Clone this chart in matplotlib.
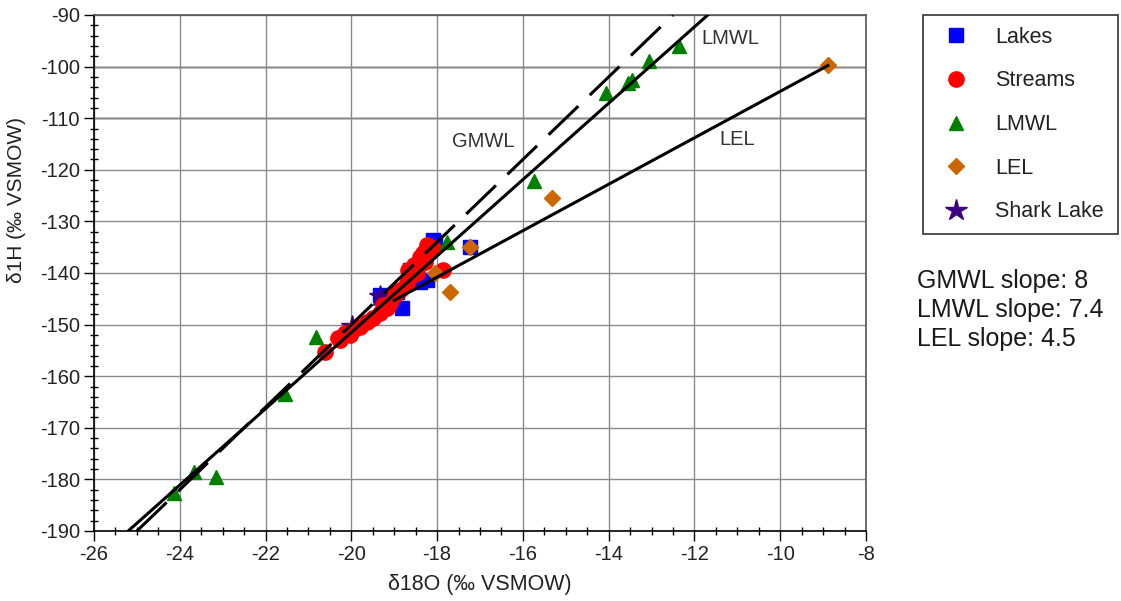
import matplotlib
matplotlib.use("Agg")
import matplotlib.pyplot as plt
from matplotlib.ticker import MultipleLocator
import numpy as np

plt.rcParams['font.family'] = ['Liberation Sans', 'DejaVu Sans']
plt.rcParams['axes.unicode_minus'] = False

# ---- data ----
lakes_x = [-18.05, -17.24, -18.40, -18.24, -18.82, -18.94, -19.33, -18.63, -18.10]
lakes_y = [-134.0, -135.0, -141.7, -141.4, -146.8, -143.7, -144.3, -139.4, -133.6]

streams_x = [-20.62, -20.31, -20.27, -20.15, -20.03, -19.96, -19.80, -19.64, -19.50,
             -19.33, -19.17, -19.10, -19.26, -18.98, -18.87, -18.70, -18.63, -18.47,
             -18.68, -18.40, -18.33, -18.21, -18.10, -18.28, -17.86, -18.24, -18.55]
streams_y = [-155.3, -152.6, -153.0, -151.6, -152.0, -151.0, -150.5, -149.5, -148.7,
             -147.8, -146.8, -145.8, -146.2, -144.3, -143.3, -141.9, -140.8, -140.0,
             -139.4, -136.9, -136.1, -135.5, -135.2, -137.9, -139.4, -134.6, -138.5]

lmwl_x = [-12.36, -13.06, -13.46, -13.55, -14.07, -15.74, -17.77, -20.83,
          -21.55, -23.67, -23.16, -24.14]
lmwl_y = [-96.1, -99.0, -102.6, -103.2, -105.1, -122.2, -134.0, -152.4,
          -163.4, -178.6, -179.5, -182.6]

lel_x = [-8.89, -15.32, -17.24, -18.05, -17.70]
lel_y = [-99.7, -125.5, -135.0, -140.0, -143.7]

shark_x = [-19.33, -19.99]
shark_y = [-144.5, -150.3]

gmwl_slope, gmwl_int = 8.0, 10.0
lmwl_slope, lmwl_int = 7.4, -3.5
lel_slope, lel_int = 4.5, -59.8

slope_text = ["GMWL slope: 8", "LMWL slope: 7.4", "LEL slope: 4.5"]

# ---- figure ----
W, H = 1121, 601
fig = plt.figure(figsize=(W / 100, H / 100), dpi=100)
ax = fig.add_axes([94 / W, 1 - 531 / H, (866 - 94) / W, (531 - 15) / H])

ax.set_xlim(-26, -8)
ax.set_ylim(-190, -90)
ax.xaxis.set_major_locator(MultipleLocator(2))
ax.xaxis.set_minor_locator(MultipleLocator(0.5))
ax.yaxis.set_major_locator(MultipleLocator(10))
ax.yaxis.set_minor_locator(MultipleLocator(2))

ax.grid(True, which='major', color='#8a8a8a', lw=1.0, zorder=0)
for yv in (-100, -110):
    ax.axhline(yv, color='black', lw=1.0, zorder=0.5)

tc = '#222222'
ax.tick_params(which='major', direction='out', length=7, width=1, colors='black',
               labelsize=14.5, labelcolor=tc, pad=3)
ax.tick_params(which='minor', direction='inout', length=6, width=1, colors='black')
for s in ('top', 'right'):
    ax.spines[s].set_color('#555555')
for s in ax.spines.values():
    s.set_linewidth(1.2)

ax.set_xlabel('δ18O (‰ VSMOW)', fontsize=15.5, color=tc, labelpad=7)
ax.set_ylabel('δ1H (‰ VSMOW)', fontsize=15, color=tc)
ax.yaxis.set_label_coords((26 - 94) / 772, (531 - 200) / 516)

# scatter series
ax.plot(lakes_x, lakes_y, ls='none', marker='s', ms=9.5, color='#0000ff',
        label='Lakes', zorder=3)
ax.plot(shark_x, shark_y, ls='none', marker='*', ms=16, color='#3d0080',
        label='Shark Lake', zorder=3.5)
ax.plot(streams_x, streams_y, ls='none', marker='o', ms=11, color='#ff0000',
        label='Streams', zorder=4)
ax.plot(lmwl_x, lmwl_y, ls='none', marker='^', ms=10, color='#008000',
        label='LMWL', zorder=4.5)
ax.plot(lel_x, lel_y, ls='none', marker='D', ms=8, color='#cc6600',
        label='LEL', zorder=4.5)

# regression lines
xg = np.array([(-190 - gmwl_int) / gmwl_slope, (-90 - gmwl_int) / gmwl_slope])
ax.plot(xg, gmwl_slope * xg + gmwl_int, color='black', lw=2.2,
        dashes=(13.5, 5.2), zorder=6)
xl = np.array([(-190 - lmwl_int) / lmwl_slope, (-90 - lmwl_int) / lmwl_slope])
ax.plot(xl, lmwl_slope * xl + lmwl_int, color='black', lw=2.2, zorder=6)
xe = np.array([-19.0, -8.89])
ax.plot(xe, lel_slope * xe + lel_int, color='black', lw=2.2, zorder=6)

ax.text(-11.17, -94.5, 'LMWL', fontsize=14.5, color='#333333', ha='center', va='center')
ax.text(-16.93, -114.6, 'GMWL', fontsize=14.5, color='#333333', ha='center', va='center')
ax.text(-11.01, -114.2, 'LEL', fontsize=14.5, color='#333333', ha='center', va='center')

# legend
h, l = ax.get_legend_handles_labels()
order = ['Lakes', 'Streams', 'LMWL', 'LEL', 'Shark Lake']
hd = dict(zip(l, h))
leg = fig.legend([hd[k] for k in order], order, loc='upper left',
                 bbox_to_anchor=(923 / W, 1 - 15 / H, (1118 - 923) / W, 0),
                 mode='expand', fancybox=False, framealpha=1, edgecolor='#333333',
                 fontsize=15.5, labelspacing=1.05, borderpad=0.55, handletextpad=0.8,
                 handlelength=2.0, borderaxespad=0)
leg.get_frame().set_linewidth(1.2)
for t in leg.get_texts():
    t.set_color('#222222')

for i, s in enumerate(slope_text):
    fig.text(917 / W, 1 - (281 + 29 * i) / H, s, fontsize=18, color='#1a1a1a',
             ha='left', va='center')

fig.savefig('out.png', dpi=100)
